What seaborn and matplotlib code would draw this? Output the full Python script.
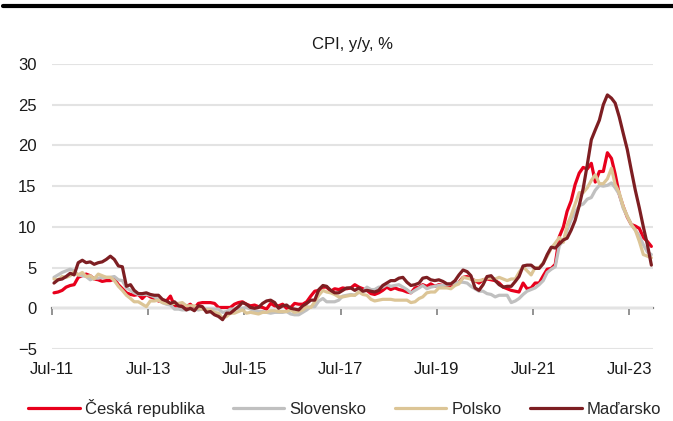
import numpy as np
import pandas as pd
import matplotlib
matplotlib.use("Agg")
import matplotlib.pyplot as plt
import matplotlib.dates as mdates
from matplotlib.lines import Line2D
import seaborn as sns

# monthly HICP y/y, Jul 2011 - Dec 2023
countries = ["Česká republika", "Slovensko", "Polsko", "Maďarsko"]
colors = ["#E8001C", "#C0C0C0", "#DCC596", "#7D1E22"]

cz = [1.9, 2.0, 2.2, 2.6, 2.8, 2.9,
      3.8, 4.0, 4.2, 4.0, 3.6, 3.5, 3.3, 3.4, 3.4, 3.6, 2.9, 2.4,
      1.9, 1.7, 1.6, 1.7, 1.2, 1.7, 1.4, 1.2, 0.9, 0.8, 0.9, 1.5,
      0.3, 0.3, 0.3, 0.2, 0.5, 0.0, 0.6, 0.7, 0.7, 0.7, 0.6, 0.1,
      0.1, 0.1, 0.1, 0.5, 0.7, 0.8, 0.5, 0.3, 0.4, 0.2, 0.1, -0.1,
      0.6, 0.3, 0.3, 0.5, 0.0, 0.1, 0.6, 0.5, 0.5, 0.8, 1.5, 2.1,
      2.2, 2.6, 2.6, 2.1, 2.4, 2.3, 2.5, 2.4, 2.5, 2.9, 2.6, 2.4,
      2.2, 1.8, 1.7, 1.9, 2.2, 2.6, 2.3, 2.5, 2.3, 2.2, 2.0, 1.9,
      2.5, 2.6, 2.9, 2.7, 3.0, 2.7, 2.9, 2.8, 2.6, 2.7, 3.1, 3.2,
      3.8, 3.9, 3.6, 3.4, 3.1, 3.5, 3.6, 3.5, 3.4, 3.1, 2.6, 2.4,
      2.2, 2.1, 2.0, 3.1, 2.4, 2.5, 3.1, 3.1, 4.0, 4.8, 4.9, 5.4,
      8.8, 10.0, 11.9, 13.2, 15.2, 16.6, 17.3, 17.1, 17.8, 15.5, 16.8, 16.8,
      19.1, 18.4, 16.5, 14.0, 12.5, 11.2, 10.3, 10.1, 9.8, 8.7, 8.2, 7.6]

sk = [3.8, 4.1, 4.4, 4.6, 4.8, 4.6,
      4.1, 4.0, 3.9, 3.5, 3.7, 3.7, 3.8, 3.8, 3.8, 3.9, 3.5, 3.4,
      2.5, 2.2, 1.9, 1.7, 1.7, 1.7, 1.6, 1.4, 1.1, 0.7, 0.5, 0.4,
      -0.1, -0.1, -0.2, -0.2, -0.1, -0.1, -0.2, -0.1, -0.1, -0.1, -0.1, -0.1,
      -0.5, -0.4, -0.1, -0.1, 0.0, 0.0, 0.1, -0.1, -0.3, -0.4, -0.4, -0.5,
      -0.6, -0.5, -0.5, -0.5, -0.4, -0.7, -0.8, -0.8, -0.5, -0.2, 0.2, 0.2,
      0.9, 1.2, 0.8, 0.8, 0.8, 1.0, 1.5, 1.6, 1.7, 1.6, 2.0, 2.0,
      2.6, 2.3, 2.3, 2.6, 2.6, 2.9, 2.7, 2.8, 2.9, 2.6, 2.3, 1.9,
      2.2, 2.5, 2.8, 2.4, 2.6, 2.7, 2.8, 2.8, 2.9, 3.0, 3.1, 3.2,
      3.2, 3.1, 2.7, 2.4, 2.1, 2.1, 1.8, 1.7, 1.4, 1.6, 1.6, 1.6,
      0.7, 0.9, 1.2, 1.7, 2.1, 2.3, 2.5, 2.9, 3.4, 4.4, 4.8, 5.1,
      7.7, 8.3, 9.6, 10.9, 11.8, 12.6, 12.8, 13.4, 13.6, 14.5, 15.1, 15.0,
      15.1, 15.4, 14.8, 14.0, 12.3, 11.3, 10.3, 9.6, 8.9, 7.8, 6.9, 6.6]

pl = [3.6, 3.5, 3.9, 3.8, 4.0, 4.5,
      4.1, 4.4, 3.9, 4.0, 3.6, 4.2, 4.0, 3.8, 3.8, 3.4, 2.7, 2.2,
      1.6, 1.2, 0.8, 0.8, 0.5, 0.2, 0.9, 0.9, 1.0, 0.7, 0.6, 0.6,
      0.6, 0.6, 0.7, 0.3, 0.3, 0.3, 0.0, -0.1, -0.2, -0.2, -0.5, -0.6,
      -1.2, -1.0, -0.6, -0.6, -0.4, -0.2, -0.6, -0.5, -0.6, -0.7, -0.5, -0.5,
      -0.3, -0.3, -0.4, -0.4, -0.4, -0.2, -0.5, -0.4, -0.2, 0.2, 0.1, 0.8,
      1.6, 2.2, 2.0, 1.9, 1.7, 1.4, 1.4, 1.5, 1.6, 1.6, 2.0, 1.7,
      1.6, 1.1, 0.9, 1.0, 1.1, 1.1, 1.1, 1.0, 1.0, 1.0, 1.0, 0.7,
      0.8, 1.2, 1.4, 1.9, 2.0, 2.0, 2.5, 2.5, 2.5, 2.4, 2.8, 3.0,
      3.8, 3.7, 3.6, 3.4, 3.4, 3.5, 3.7, 3.7, 3.6, 3.8, 3.6, 3.4,
      3.6, 3.6, 4.4, 5.1, 4.6, 4.1, 5.0, 5.0, 5.6, 6.4, 7.4, 8.0,
      8.7, 8.1, 10.2, 11.4, 12.8, 14.2, 14.2, 14.8, 15.7, 16.4, 15.3, 15.3,
      15.9, 17.2, 15.2, 14.2, 12.5, 11.3, 10.3, 9.6, 8.2, 6.6, 6.4, 6.2]

hu = [3.1, 3.5, 3.6, 3.9, 4.3, 4.1,
      5.6, 5.9, 5.6, 5.7, 5.4, 5.6, 5.7, 6.0, 6.4, 6.0, 5.2, 5.1,
      2.7, 2.9, 2.2, 1.8, 1.8, 1.9, 1.7, 1.6, 1.6, 1.1, 0.9, 0.6,
      0.8, 0.3, 0.2, -0.2, 0.0, -0.3, 0.3, 0.2, -0.5, -0.4, -0.8, -1.0,
      -1.4, -0.6, -0.6, -0.2, 0.2, 0.7, 0.5, 0.1, 0.0, 0.1, 0.6, 0.9,
      1.0, 0.7, 0.0, 0.3, 0.4, 0.0, -0.1, -0.2, 0.3, 0.6, 1.0, 1.0,
      2.3, 2.8, 2.7, 2.2, 1.9, 1.9, 2.2, 2.5, 2.5, 2.2, 2.5, 2.1,
      2.2, 2.1, 2.0, 2.2, 2.8, 3.1, 3.4, 3.4, 3.7, 3.8, 3.2, 2.8,
      2.9, 3.1, 3.7, 3.8, 3.5, 3.4, 3.5, 3.3, 3.0, 3.0, 3.4, 4.1,
      4.7, 4.5, 4.0, 2.5, 2.2, 2.9, 3.9, 4.0, 3.4, 2.9, 2.6, 2.7,
      2.7, 3.3, 3.9, 5.2, 5.3, 5.3, 4.9, 4.9, 5.5, 6.6, 7.5, 7.4,
      7.9, 8.4, 8.6, 9.6, 10.8, 12.6, 14.7, 17.6, 20.7, 21.9, 23.1, 25.0,
      26.2, 25.8, 25.2, 23.5, 21.5, 19.5, 17.0, 14.5, 12.3, 10.0, 7.8, 5.3]

months = pd.date_range("2011-07-01", periods=len(cz), freq="MS") + pd.Timedelta(days=15)
tick_dates = pd.date_range("2011-07-01", "2023-07-01", freq="24MS")

df = pd.DataFrame({"date": months, "Česká republika": cz, "Slovensko": sk,
                   "Polsko": pl, "Maďarsko": hu})
long = df.melt(id_vars="date", var_name="country", value_name="cpi")

sns.set_style("white")
plt.rcParams["font.family"] = ["Liberation Sans", "DejaVu Sans"]

fig = plt.figure(figsize=(6.73, 4.21), dpi=100)
ax = fig.add_axes([0.0773, 0.171, 0.8937, 0.677])

sns.lineplot(data=long, x="date", y="cpi", hue="country", hue_order=countries,
             palette=colors, linewidth=2.3, ax=ax, legend=True)

ax.set_ylim(-5, 30)
ax.set_yticks(range(-5, 31, 5))
ax.set_xlim(pd.Timestamp("2011-07-01"), pd.Timestamp("2024-01-01"))
ax.set_xticks(tick_dates)
ax.xaxis.set_major_formatter(mdates.DateFormatter("%b-%y"))
ax.grid(axis="y", color="#E3E3E3", linewidth=1.5)
ax.set_axisbelow(True)
for s in ax.spines.values():
    s.set_visible(False)
ax.tick_params(axis="y", length=0, pad=11, labelsize=12, colors="#1a1a1a")
ax.tick_params(axis="x", length=0, pad=9, labelsize=12, colors="#1a1a1a")
ax.set_xlabel("")
ax.set_ylabel("")

# zero axis line with tick marks
sec = ax.secondary_xaxis(5 / 35)
sec.set_xticks(mdates.date2num(tick_dates))
sec.tick_params(axis="x", direction="out", length=5, width=1.2, color="#808080",
                labelbottom=False)
sec.spines["bottom"].set_color("#808080")
sec.spines["bottom"].set_linewidth(1.6)

ax.set_title("CPI, y/y, %", fontsize=12, pad=11, color="#1a1a1a")

handles, labels = ax.get_legend_handles_labels()
ax.legend_.remove()
fig.legend(handles, labels, loc="center", bbox_to_anchor=(0.512, 0.031), ncol=4,
           frameon=False, fontsize=12, handlelength=3.1, handletextpad=0.3,
           columnspacing=1.7)

fig.add_artist(Line2D([0.005, 1.0], [0.986, 0.986], transform=fig.transFigure,
                      color="black", linewidth=3.0))

fig.savefig("out.png", dpi=100)
